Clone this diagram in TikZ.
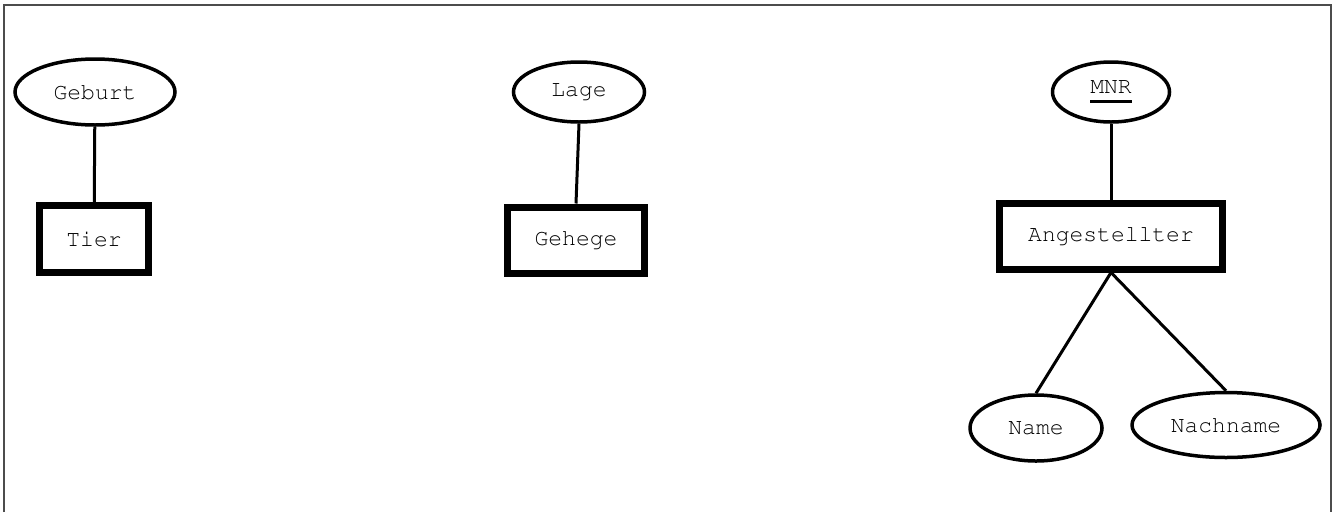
\documentclass[tikz,border=0pt]{standalone}
\usepackage[T1]{fontenc}
\usepackage{courier}
\usetikzlibrary{shapes.geometric}

\newcommand{\keyattr}[1]{\setbox0\hbox{#1}\rlap{\rule[-9pt]{\wd0}{3pt}}\box0}

\tikzset{
	entity/.style={draw, rectangle, line width=7pt, inner sep=0pt},
	attrib/.style={draw, ellipse, line width=3.5pt, inner sep=0pt},
	conn/.style={line width=3pt}
}

\begin{document}
\begin{tikzpicture}[x=1pt, y=-1pt, font=\ttfamily\fontsize{23}{27}\selectfont]
		      		\useasboundingbox (0,0) rectangle (1337,512);
		      		\draw[gray!60!black, line width=2pt] (4,512) -- (4,5) -- (1331,5) -- (1331,512);
		      			
		      		\node[attrib, minimum width=160pt, minimum height=66pt] (geburt) at (95,92) {Geburt};
		      		\node[entity, minimum width=109pt, minimum height=67pt] (tier) at (94,239) {Tier};
		      		\draw[conn] (geburt) -- (tier);
		      		   
		      		\node[attrib, minimum width=131pt, minimum height=60pt] (lage) at (579,92) {Lage};
		      		\node[entity, minimum width=137pt, minimum height=66pt] (gehege) at (576,240) {Gehege};
		      		\draw[conn] (lage.south) -- (gehege.north);
		      		
		      		\node[attrib, minimum width=117pt, minimum height=60pt] (mnr) at (1111,92) {\keyattr{MNR}};
		      		\node[entity, minimum width=223pt, minimum height=66pt] (angest) at (1111,236) {Angestellter};
		      		\node[attrib, minimum width=132pt, minimum height=66pt] (name) at (1036,428) {Name};
		      		\node[attrib, minimum width=188pt, minimum height=65pt] (nachname) at (1226,425) {Nachname};
		      		\draw[conn] (mnr) -- (angest);
		      		\draw[conn] (angest.south) -- (name.north);
		      		\draw[conn] (angest.south) -- (nachname.north);
		      		  
		      	\end{tikzpicture}
\end{document}
